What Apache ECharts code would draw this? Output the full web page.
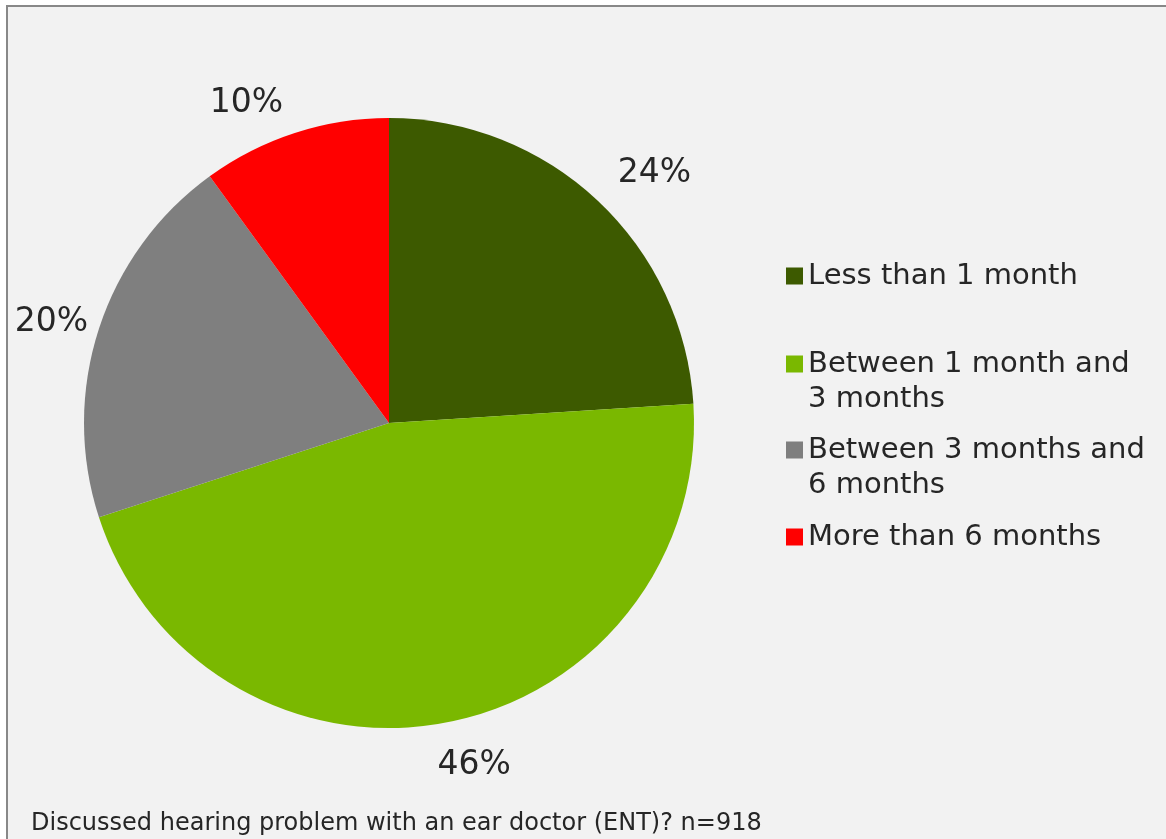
<!DOCTYPE html>
<html>
<head>
<meta charset="utf-8">
<script src="https://cdn.jsdelivr.net/npm/echarts@6/dist/echarts.min.js"></script>
<style>
html,body{margin:0;padding:0;background:#ffffff;}
#chart{width:1166px;height:839px;}
</style>
</head>
<body>
<div id="chart"></div>
<script>
const categories = ['Less than 1 month', 'Between 1 month and 3 months', 'Between 3 months and 6 months', 'More than 6 months'];
const legendLines = ['Less than 1 month', 'Between 1 month and\n3 months', 'Between 3 months and\n6 months', 'More than 6 months'];
const values = [24, 46, 20, 10];
const footnote = 'Discussed hearing problem with an ear doctor (ENT)? n=918';

const colors = ['#3d5a00', '#7ab800', '#7f7f7f', '#ff0000'];
const FONT = '"DejaVu Sans", Verdana, sans-serif';
const TEXT = '#262626';

// label placement tweaks (length, length2) per slice
const lineLens = [[38, -6], [44, -17], [22, -10], [31.5, 2]];

const chart = echarts.init(document.getElementById('chart'), null, {renderer: 'canvas'});

const legendTops = [258.5, 311.5, 397.5, 519.5];
const legends = categories.map((c, i) => {
  const multi = legendLines[i].indexOf('\n') >= 0;
  return {
    data: [c],
    orient: 'vertical',
    left: 786,
    top: legendTops[i],
    padding: 0,
    icon: 'rect',
    itemWidth: 17,
    itemHeight: 17,
    selectedMode: false,
    formatter: () => (multi ? '\n' : '') + legendLines[i],
    textStyle: {
      fontFamily: FONT,
      fontSize: 29,
      color: TEXT,
      lineHeight: 35
    }
  };
});

chart.setOption({
  backgroundColor: '#ffffff',
  animation: false,
  color: colors,
  graphic: [
    {
      type: 'rect',
      z: -10,
      shape: {x: 7, y: 6, width: 1200, height: 900},
      style: {fill: '#f2f2f2', stroke: '#888888', lineWidth: 2}
    },
    {
      type: 'text',
      left: 31,
      top: 812,
      style: {text: footnote, font: '24px ' + FONT, fill: TEXT}
    }
  ],
  legend: legends,
  series: [{
    type: 'pie',
    center: [389, 423],
    radius: 305,
    startAngle: 90,
    clockwise: true,
    avoidLabelOverlap: false,
    itemStyle: {borderWidth: 0},
    label: {
      show: true,
      position: 'outside',
      distanceToLabelLine: 0,
      fontFamily: FONT,
      fontSize: 33,
      color: TEXT,
      formatter: p => p.value + '%'
    },
    labelLine: {show: false},
    emphasis: {disabled: true},
    data: categories.map((c, i) => ({
      name: c,
      value: values[i],
      labelLine: {show: false, length: lineLens[i][0], length2: lineLens[i][1]}
    }))
  }]
});
</script>
</body>
</html>
